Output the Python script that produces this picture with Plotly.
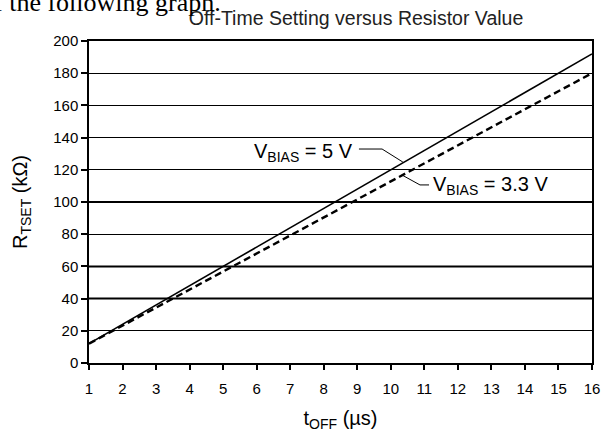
import plotly.graph_objects as go

# ---- data ----
t_off_5v = [1, 16]
r_tset_5v = [12, 192]
t_off_33v = [1, 16]
r_tset_33v = [12, 180]

x_ticks = list(range(1, 17))
y_ticks = list(range(0, 201, 20))
thick_grid = [40, 60, 100]

title_text = "Off-Time Setting versus Resistor Value"
x_title = "t<sub>OFF</sub> (µs)"
y_title = "R<sub>TSET</sub> (kΩ)"
label_5v = "V<sub>BIAS</sub> = 5 V"
label_33v = "V<sub>BIAS</sub> = 3.3 V"
doc_text = "of the following graph."

FONT = "Liberation Sans, Arial, sans-serif"

fig = go.Figure()
fig.add_trace(go.Scatter(x=t_off_5v, y=r_tset_5v, mode="lines",
                         line=dict(color="black", width=1.6), showlegend=False))
fig.add_trace(go.Scatter(x=t_off_33v, y=r_tset_33v, mode="lines",
                         line=dict(color="black", width=2.4, dash="7px,4px"),
                         showlegend=False))

shapes = []
for g in thick_grid:
    shapes.append(dict(type="line", xref="paper", x0=0, x1=1, yref="y", y0=g, y1=g,
                       line=dict(color="black", width=2), layer="below"))
# leader lines
shapes.append(dict(type="path", xref="x", yref="y",
                   path="M 9.05 132.9 L 9.74 132.9 L 10.36 124.8",
                   line=dict(color="black", width=1)))
shapes.append(dict(type="path", xref="x", yref="y",
                   path="M 10.33 116.8 L 10.87 110.6 L 11.14 110.6",
                   line=dict(color="black", width=1)))

annotations = [
    dict(text=label_5v, x=8.93, y=131.0, xref="x", yref="y", xanchor="right",
         yanchor="middle", showarrow=False, font=dict(family=FONT, size=20, color="black")),
    dict(text=label_33v, x=11.2, y=110.0, xref="x", yref="y", xanchor="left",
         yanchor="middle", showarrow=False, font=dict(family=FONT, size=20, color="black")),
    dict(text=doc_text, x=(223 - 89) / 503, y=(363 - 19) / 322, xref="paper", yref="paper",
         xanchor="right", yanchor="bottom", showarrow=False,
         font=dict(family="Liberation Serif, Times New Roman, serif", size=26, color="black")),
]

fig.update_layout(
    width=608, height=432,
    margin=dict(l=89, r=16, t=41, b=69, autoexpand=False),
    paper_bgcolor="white", plot_bgcolor="white",
    title=dict(text=title_text, x=356 / 608, xanchor="center", y=1 - 18 / 432,
               yanchor="middle", font=dict(family=FONT, size=19.5, color="#222")),
    font=dict(family=FONT, size=15, color="black"),
    shapes=shapes,
    annotations=annotations,
    xaxis=dict(range=[1, 16], tickvals=x_ticks, showgrid=False, zeroline=False,
               showline=True, linecolor="black", linewidth=1.5, mirror=True,
               ticks="outside", ticklen=5, tickwidth=1.5, tickcolor="black",
               tickfont=dict(size=15), ticklabelstandoff=6, automargin=False,
               title=dict(text=x_title, font=dict(size=20), standoff=16)),
    yaxis=dict(range=[0, 200], tickvals=y_ticks, showgrid=True, gridcolor="black",
               gridwidth=1, zeroline=False, showline=True, linecolor="black",
               linewidth=1.5, mirror=True, ticks="outside", ticklen=6, tickwidth=1.5,
               tickcolor="black", tickfont=dict(size=15), automargin=False,
               title=dict(text=y_title, font=dict(size=20), standoff=20)),
)

fig.write_html("out.html", config={"displayModeBar": False},
               post_script="document.body.style.margin='0';document.body.style.overflow='hidden';")
